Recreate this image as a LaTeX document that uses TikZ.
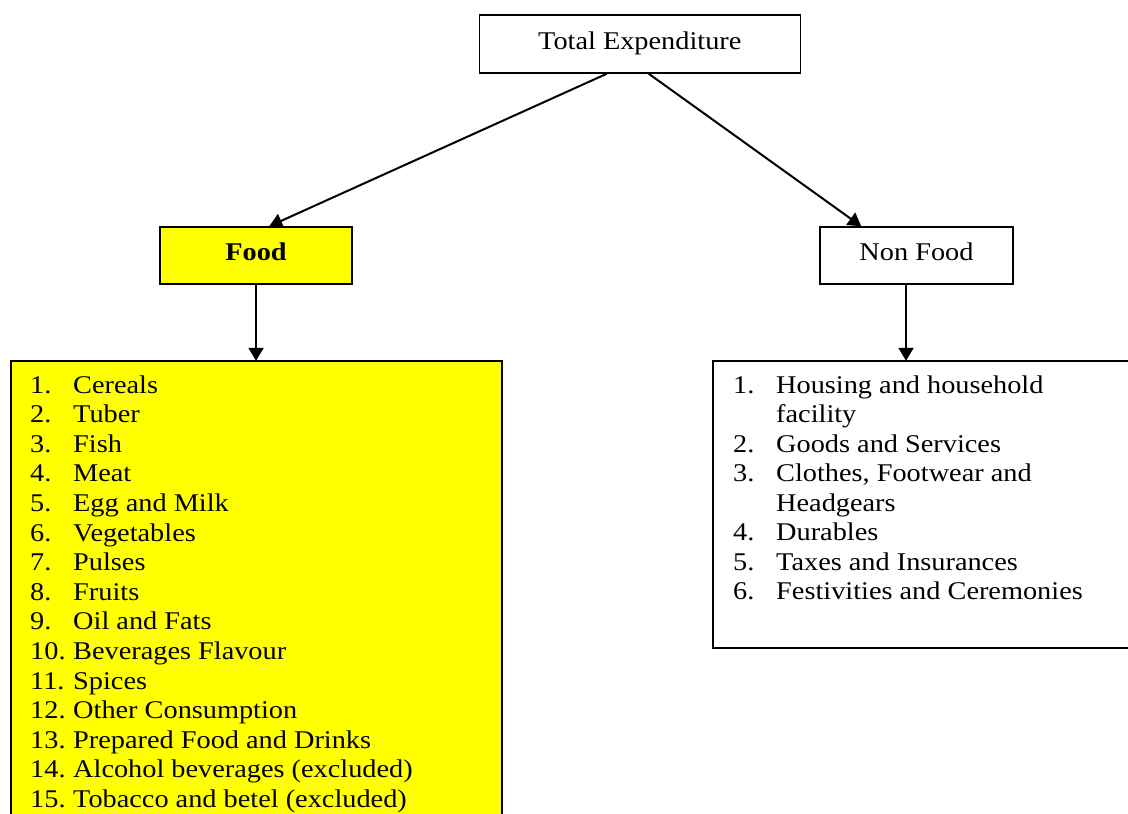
\documentclass[tikz,border=0pt]{standalone}
\usepackage{fontspec}
\setmainfont{Liberation Serif}[FakeStretch=1.11]
\usetikzlibrary{arrows.meta,calc}
\definecolor{boxyellow}{RGB}{255,255,0}
\begin{document}
\begin{tikzpicture}[x=1pt,y=-1pt,
  box/.style={draw=black,line width=1.5pt,inner sep=0pt,font=\fontsize{25.5}{30}\selectfont},
  item/.style={anchor=base west,inner sep=0pt,font=\fontsize{25.5}{30}\selectfont},
  conn/.style={line width=2pt,-{Triangle[length=13pt,width=15pt]}}]
\useasboundingbox (0,0) rectangle (1128,814);
% top box
\node[box,minimum width=321pt,minimum height=58pt] (te) at (640,44) {};
\node[item] (tet) at (538,49) {Total Expenditure};
% second level
\node[box,fill=boxyellow,minimum width=192pt,minimum height=57pt] (food) at (256,255.5) {};
\node[anchor=base,inner sep=0pt,font=\fontsize{25.5}{30}\selectfont\bfseries] (foodt) at (256,260) {Food};
\node[box,minimum width=193pt,minimum height=57pt] (nonfood) at (916.5,255.5) {};
\node[anchor=base,inner sep=0pt,font=\fontsize{25.5}{30}\selectfont] (nonfoodt) at (916.5,260) {Non Food};
% lists
\draw[line width=1.5pt,fill=boxyellow] (11,361) rectangle (502,830);
\node[inner sep=0pt,minimum size=0pt] (foodlist) at (256,361) {};
\draw[line width=1.5pt] (713,361) rectangle (1140,648);
\node[inner sep=0pt,minimum size=0pt] (nonfoodlist) at (906,361) {};
% food items
\foreach \n/\t [count=\i from 0] in {1./Cereals,2./Tuber,3./Fish,4./Meat,5./Egg and Milk,6./Vegetables,7./Pulses,8./Fruits,9./Oil and Fats,10./Beverages Flavour,11./Spices,12./Other Consumption,13./Prepared Food and Drinks,14./Alcohol beverages (excluded),15./Tobacco and betel (excluded)}{
  \node[item] (fn\i) at (30,393+29.6*\i) {\n};
  \node[item] (ft\i) at (73,393+29.6*\i) {\t};
}
% non-food items
\foreach \n/\t/\r [count=\i from 0] in {1./Housing and household/0,{}/facility/1,2./Goods and Services/2,3./{Clothes, Footwear and}/3,{}/Headgears/4,4./Durables/5,5./Taxes and Insurances/6,6./Festivities and Ceremonies/7}{
  \node[item] (nn\i) at (733,393+29.5*\r) {\n};
  \node[item] (nt\i) at (776,393+29.5*\r) {\t};
}
% connectors
\draw[conn] ([xshift=128pt]te.south west) -- ([xshift=110pt]food.north west);
\draw[conn] ([xshift=170pt]te.south west) -- ([xshift=42pt]nonfood.north west);
\draw[conn] (food.south) -- (foodlist);
\draw[conn] ([xshift=-10.5pt]nonfood.south) -- (nonfoodlist);
\end{tikzpicture}
\end{document}
